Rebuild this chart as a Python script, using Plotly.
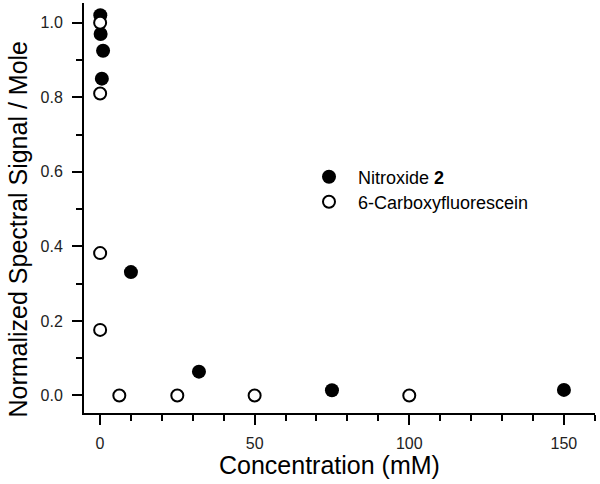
import plotly.graph_objects as go

# Data
nitroxide_x = [0.1, 0.2, 1.0, 0.6, 10, 32, 75, 150]
nitroxide_y = [1.02, 0.97, 0.925, 0.85, 0.331, 0.064, 0.014, 0.015]

cf_x = [0.05, 0.05, 0.05, 0.05, 6.25, 25, 50, 100]
cf_y = [1.0, 0.81, 0.382, 0.176, 0.0, 0.0, 0.0, 0.0]

x_tickvals = [0, 50, 100, 150]
y_tickvals = [0.0, 0.2, 0.4, 0.6, 0.8, 1.0]
y_ticktext = ["0.0", "0.2", "0.4", "0.6", "0.8", "1.0"]

FONT = "Arial, Liberation Sans, sans-serif"

fig = go.Figure()
fig.add_trace(go.Scatter(
    x=nitroxide_x, y=nitroxide_y, mode="markers", name="Nitroxide <b>2</b>",
    marker=dict(symbol="circle", size=14, color="black", line=dict(width=0)),
    legend="legend",
))
fig.add_trace(go.Scatter(
    x=cf_x, y=cf_y, mode="markers", name="6-Carboxyfluorescein",
    marker=dict(symbol="circle", size=12, color="white", line=dict(width=2, color="black")),
    legend="legend2",
))

axis_common = dict(
    showline=True, linecolor="black", linewidth=2,
    ticks="outside", ticklen=10, tickwidth=2, tickcolor="black",
    showgrid=False, zeroline=False, mirror=False, automargin=False,
    tickfont=dict(family=FONT, size=16, color="#222"),
)

fig.update_xaxes(
    range=[-5.17, 160.05], tickvals=x_tickvals, ticklabelstandoff=5,
    minor=dict(ticks="outside", ticklen=6, tickwidth=2, tickcolor="black", dtick=10, tick0=0),
    **axis_common,
)
fig.update_yaxes(
    range=[-0.047, 1.053], tickvals=y_tickvals, ticktext=y_ticktext, ticklabelstandoff=6,
    minor=dict(ticks="outside", ticklen=6, tickwidth=2, tickcolor="black", dtick=0.1, tick0=0),
    **axis_common,
)

title_font = dict(family=FONT, size=25, color="black")
fig.add_annotation(text="Concentration (mM)", xref="paper", yref="paper",
                   x=0.4814, y=-0.1268, xanchor="center", yanchor="middle",
                   showarrow=False, font=title_font)
fig.add_annotation(text="Normalized Spectral Signal / Mole", xref="paper", yref="paper",
                   x=-0.130, y=0.4488, xanchor="center", yanchor="middle", textangle=-90,
                   showarrow=False, font=title_font)

legend_common = dict(
    xanchor="left", yanchor="middle",
    font=dict(family=FONT, size=18, color="black"),
    bgcolor="rgba(0,0,0,0)", borderwidth=0, itemwidth=48,
)

fig.update_layout(
    width=600, height=484,
    margin=dict(l=84, r=5, t=3, b=71),
    paper_bgcolor="white", plot_bgcolor="white",
    showlegend=True,
    legend=dict(x=0.4227, y=0.5756, **legend_common),
    legend2=dict(x=0.4227, y=0.5146, **legend_common),
)

fig.write_html(
    "out.html",
    config={"displayModeBar": False},
    post_script="document.body.style.margin='0';document.body.style.overflow='hidden';",
)
